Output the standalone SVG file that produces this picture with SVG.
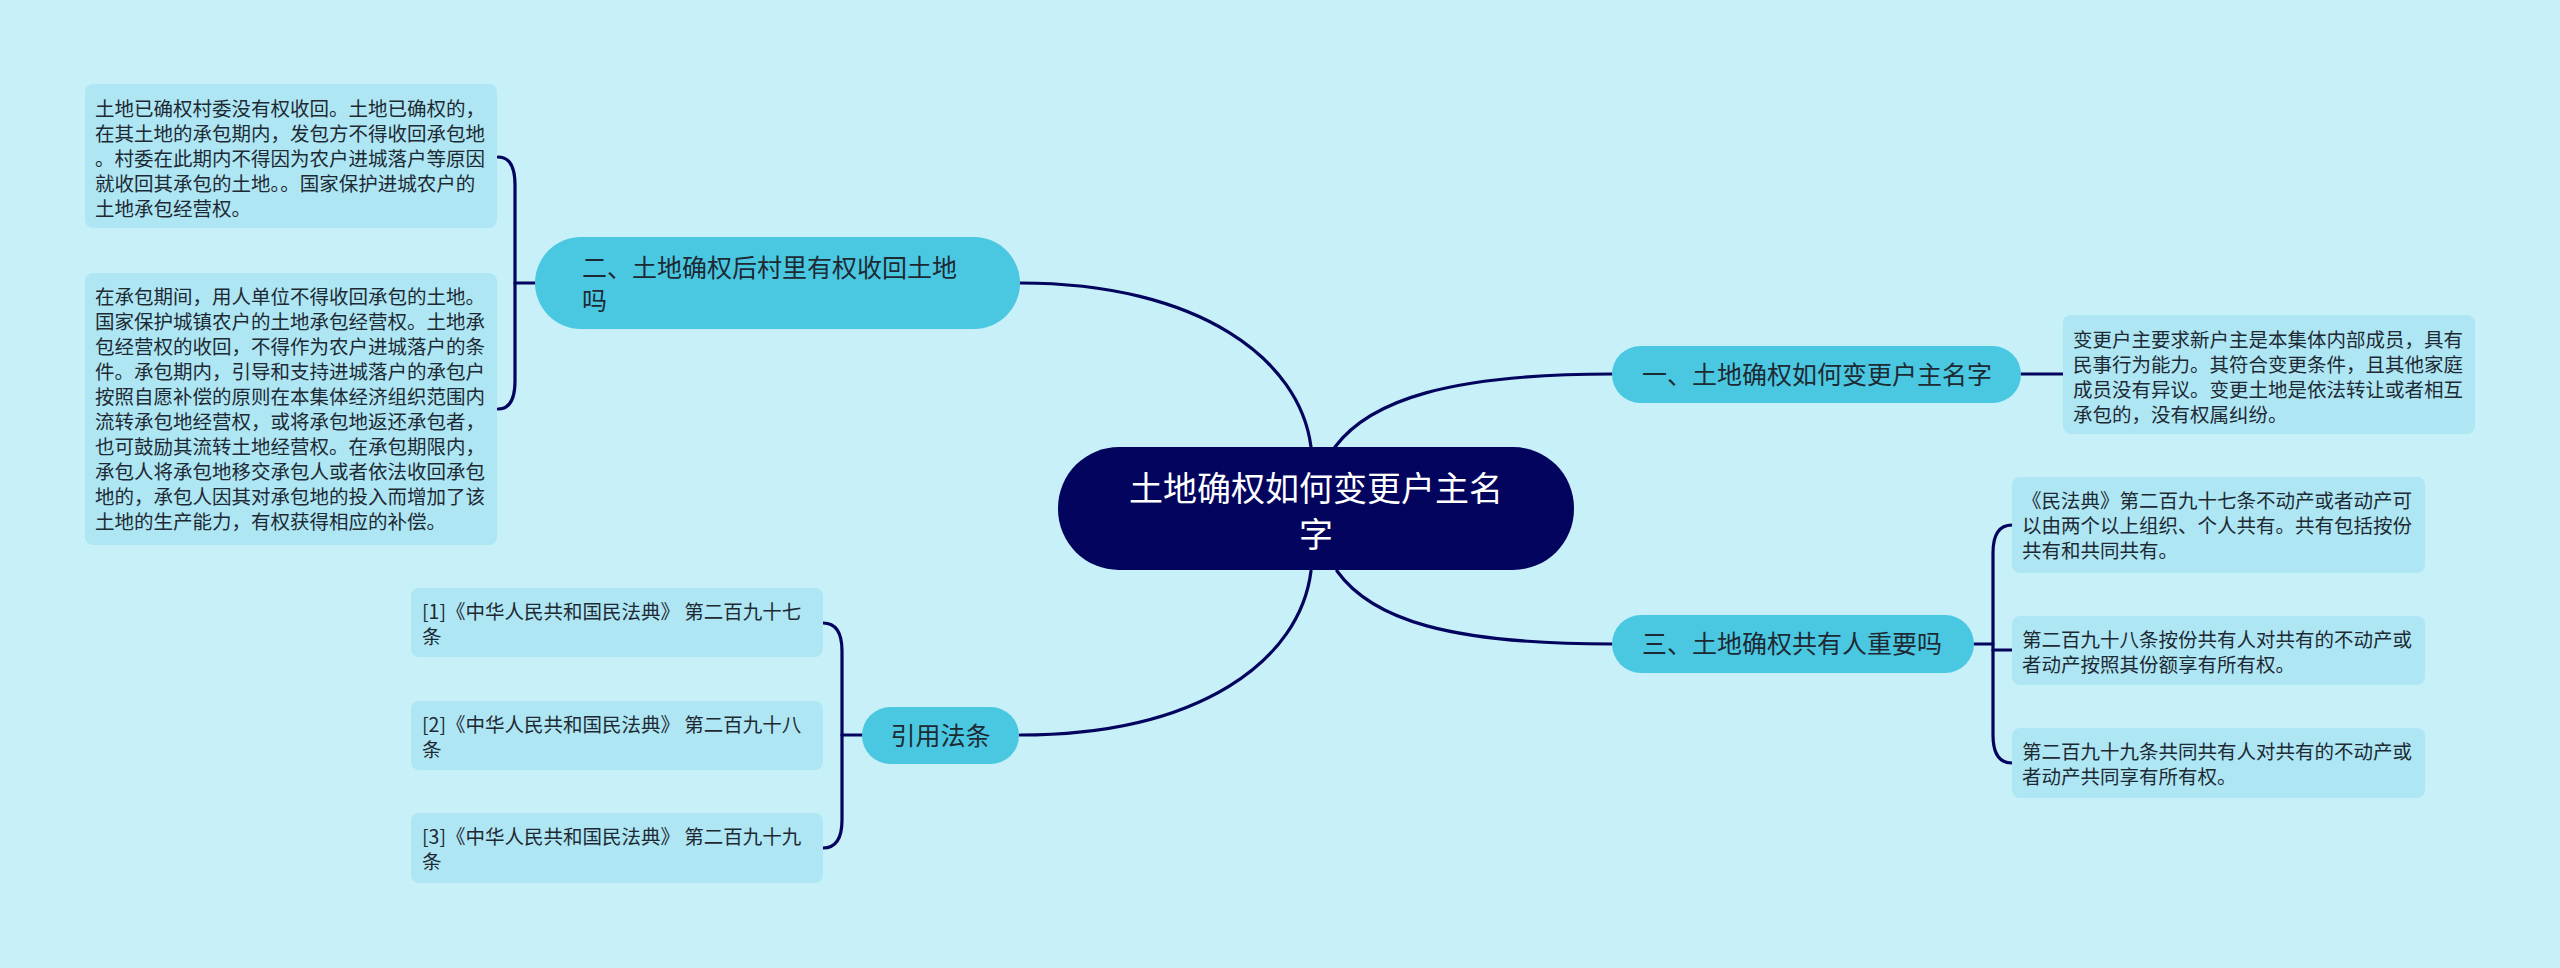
<svg xmlns="http://www.w3.org/2000/svg" width="2560" height="968" viewBox="0 0 2560 968">
<style>
.bg{fill:#C8F0F8}
.root{fill:#03045E}
.branch{fill:#4AC8E2}
.leaf{fill:#AEE6F4}
.conn{fill:none;stroke:#03045E;stroke-width:3.2;stroke-linecap:round}
text{font-family:"Noto Sans CJK SC","Noto Sans",sans-serif}
.rt{fill:#FFFFFF;font-size:34px;text-anchor:middle}
.bt{fill:#1E2A33;font-size:25px}
.lt{fill:#1E2A33;font-size:19.5px}
</style>
<rect class="bg" x="0" y="0" width="2560" height="968"/>
<g id="connectors">
<path class="conn" d="M1311 447 C1300 360 1200 283 1020 283"/>
<path class="conn" d="M1335 447 C1370 400 1450 374 1612 374"/>
<path class="conn" d="M1311 571 C1300 660 1200 735 1020 735"/>
<path class="conn" d="M1337 571 C1372 620 1450 644 1612 644"/>
<path class="conn" d="M498 157 Q515 157 515 185 L515 381 Q515 409 498 409"/>
<path class="conn" d="M515 283 H535"/>
<path class="conn" d="M823 623 Q842 623 842 651 L842 820 Q842 848 823 848"/>
<path class="conn" d="M842 735 H862"/>
<path class="conn" d="M2021 374 H2063"/>
<path class="conn" d="M1974 644 H1993"/>
<path class="conn" d="M2012 525 Q1993 525 1993 553 L1993 735 Q1993 763 2012 763"/>
<path class="conn" d="M1993 650 H2012"/>
</g>
<g id="root">
<rect class="root" x="1058" y="447" width="516" height="123" rx="61"/>
<text class="rt" x="1316" y="501">土地确权如何变更户主名</text>
<text class="rt" x="1316" y="547">字</text>
</g>
<g id="branch1">
<rect class="branch" x="1612" y="346" width="409" height="57" rx="28.5"/>
<text class="bt" x="1642" y="384">一、土地确权如何变更户主名字</text>
</g>
<g id="leaf1">
<rect class="leaf" x="2063" y="315" width="412" height="119" rx="8"/>
<text class="lt" x="2073" y="347">变更户主要求新户主是本集体内部成员，具有</text>
<text class="lt" x="2073" y="372">民事行为能力。其符合变更条件，且其他家庭</text>
<text class="lt" x="2073" y="397">成员没有异议。变更土地是依法转让或者相互</text>
<text class="lt" x="2073" y="422">承包的，没有权属纠纷。</text>
</g>
<g id="branch2">
<rect class="branch" x="535" y="237" width="485" height="92" rx="46"/>
<text class="bt" x="582" y="277">二、土地确权后村里有权收回土地</text>
<text class="bt" x="582" y="310">吗</text>
</g>
<g id="leaf2a">
<rect class="leaf" x="85" y="84" width="412" height="144" rx="8"/>
<text class="lt" x="95" y="116">土地已确权村委没有权收回。土地已确权的，</text>
<text class="lt" x="95" y="141">在其土地的承包期内，发包方不得收回承包地</text>
<text class="lt" x="95" y="166">。村委在此期内不得因为农户进城落户等原因</text>
<text class="lt" x="95" y="191">就收回其承包的土地。。国家保护进城农户的</text>
<text class="lt" x="95" y="216">土地承包经营权。</text>
</g>
<g id="leaf2b">
<rect class="leaf" x="85" y="273" width="412" height="272" rx="8"/>
<text class="lt" x="95" y="304">在承包期间，用人单位不得收回承包的土地。</text>
<text class="lt" x="95" y="329">国家保护城镇农户的土地承包经营权。土地承</text>
<text class="lt" x="95" y="354">包经营权的收回，不得作为农户进城落户的条</text>
<text class="lt" x="95" y="379">件。承包期内，引导和支持进城落户的承包户</text>
<text class="lt" x="95" y="404">按照自愿补偿的原则在本集体经济组织范围内</text>
<text class="lt" x="95" y="429">流转承包地经营权，或将承包地返还承包者，</text>
<text class="lt" x="95" y="454">也可鼓励其流转土地经营权。在承包期限内，</text>
<text class="lt" x="95" y="479">承包人将承包地移交承包人或者依法收回承包</text>
<text class="lt" x="95" y="504">地的，承包人因其对承包地的投入而增加了该</text>
<text class="lt" x="95" y="529">土地的生产能力，有权获得相应的补偿。</text>
</g>
<g id="branch3">
<rect class="branch" x="1612" y="615" width="362" height="58" rx="29"/>
<text class="bt" x="1642" y="653">三、土地确权共有人重要吗</text>
</g>
<g id="leaf3a">
<rect class="leaf" x="2012" y="477" width="413" height="96" rx="8"/>
<text class="lt" x="2022" y="508">《民法典》第二百九十七条不动产或者动产可</text>
<text class="lt" x="2022" y="533">以由两个以上组织、个人共有。共有包括按份</text>
<text class="lt" x="2022" y="558">共有和共同共有。</text>
</g>
<g id="leaf3b">
<rect class="leaf" x="2012" y="616" width="413" height="69" rx="8"/>
<text class="lt" x="2022" y="647">第二百九十八条按份共有人对共有的不动产或</text>
<text class="lt" x="2022" y="672">者动产按照其份额享有所有权。</text>
</g>
<g id="leaf3c">
<rect class="leaf" x="2012" y="728" width="413" height="70" rx="8"/>
<text class="lt" x="2022" y="759">第二百九十九条共同共有人对共有的不动产或</text>
<text class="lt" x="2022" y="784">者动产共同享有所有权。</text>
</g>
<g id="branch4">
<rect class="branch" x="862" y="707" width="157" height="57" rx="28.5"/>
<text class="bt" x="940.5" y="745" text-anchor="middle">引用法条</text>
</g>
<g id="leaf4a">
<rect class="leaf" x="411" y="588" width="412" height="69" rx="8"/>
<text class="lt" x="422" y="619">[1]《中华人民共和国民法典》 第二百九十七</text>
<text class="lt" x="422" y="644">条</text>
</g>
<g id="leaf4b">
<rect class="leaf" x="411" y="701" width="412" height="69" rx="8"/>
<text class="lt" x="422" y="732">[2]《中华人民共和国民法典》 第二百九十八</text>
<text class="lt" x="422" y="757">条</text>
</g>
<g id="leaf4c">
<rect class="leaf" x="411" y="813" width="412" height="70" rx="8"/>
<text class="lt" x="422" y="844">[3]《中华人民共和国民法典》 第二百九十九</text>
<text class="lt" x="422" y="869">条</text>
</g>
</svg>
